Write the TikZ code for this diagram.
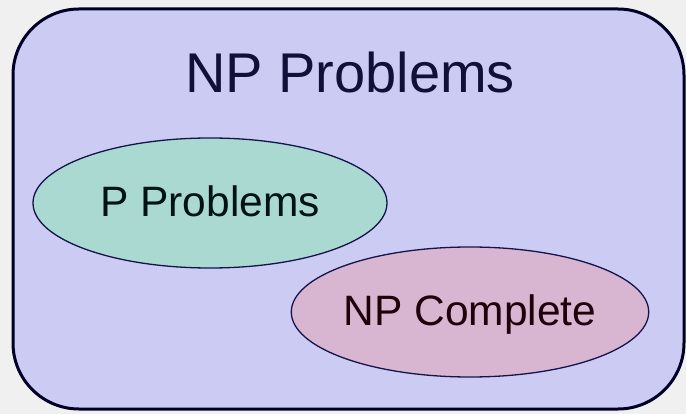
\documentclass[tikz,border=0pt]{standalone}
\usepackage{fontspec}
\setmainfont{Liberation Sans}
\usepackage{xcolor}
\usetikzlibrary{shapes.geometric,positioning}

\definecolor{pagegrey}{HTML}{F0F0F0}
\definecolor{npfill}{HTML}{CBCBF4}
\definecolor{pfill}{HTML}{A9D9D0}
\definecolor{cfill}{HTML}{D8B5D1}
\definecolor{edgenavy}{HTML}{14144A}

\begin{document}
\begin{tikzpicture}[x=1pt,y=-1pt,
  setbox/.style={ellipse,draw=edgenavy,line width=1.3pt,minimum width=354pt,minimum height=130pt,
    inner sep=0pt,font=\fontsize{42.5}{50}\selectfont,text height=28pt,text depth=0pt}]
  \useasboundingbox (0,0) rectangle (686,414);
  \fill[pagegrey] (0,0) rectangle (686,414);
  % outer class
  \draw[fill=npfill,draw=black!85!blue,line width=3pt,rounded corners=66pt] (13,9) rectangle (684,409);
  \node[anchor=base,font=\fontsize{56}{66}\selectfont,text=edgenavy!80!black] (np) at (350,93) {NP Problems};
  % inner classes
  \node[setbox,fill=pfill,text=black!85!teal] (p) at (210,203) {P Problems};
  \node[setbox,fill=cfill,text=black!85!purple] (npc) at (470,312) {NP Complete};
\end{tikzpicture}
\end{document}
